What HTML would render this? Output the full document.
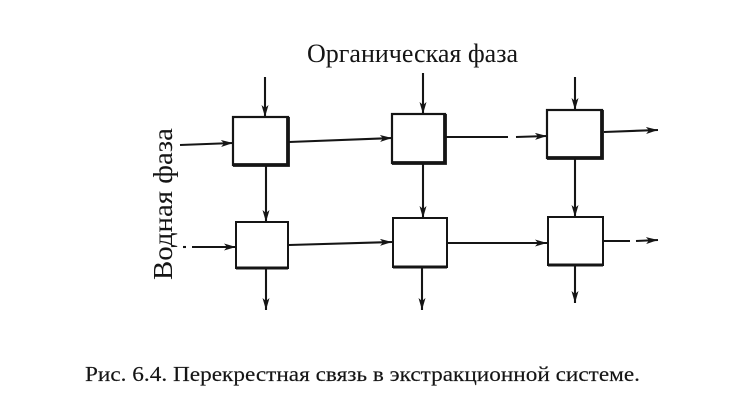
<!DOCTYPE html>
<html><head><meta charset="utf-8"><style>
html,body{margin:0;padding:0;background:#fff;}
svg{display:block;}
text{font-family:"Liberation Serif","DejaVu Serif",serif;fill:#151515;}
</style></head><body>
<svg width="750" height="408" viewBox="0 0 750 408" xmlns="http://www.w3.org/2000/svg">
<defs>
<marker id="a" viewBox="0 0 12 7" refX="12" refY="3.5" markerWidth="12" markerHeight="7" markerUnits="userSpaceOnUse" orient="auto">
<path d="M0,0 L12,3.5 L0,7 L3,3.5 z" fill="#151515"/>
</marker>
</defs>
<g stroke="#151515" stroke-width="2.1" fill="none">
<line x1="265" y1="77" x2="265" y2="117" marker-end="url(#a)"/>
<line x1="423" y1="73" x2="423" y2="114" marker-end="url(#a)"/>
<line x1="575" y1="77" x2="575" y2="110" marker-end="url(#a)"/>
<line x1="180" y1="145" x2="233" y2="143" marker-end="url(#a)"/>
<line x1="289" y1="142" x2="392" y2="138" marker-end="url(#a)"/>
<line x1="446" y1="137" x2="508" y2="137"/>
<line x1="516" y1="137" x2="547" y2="136" marker-end="url(#a)"/>
<line x1="604" y1="132" x2="658" y2="130" marker-end="url(#a)"/>
<line x1="266" y1="166" x2="266" y2="222" marker-end="url(#a)"/>
<line x1="423" y1="163" x2="423" y2="218" marker-end="url(#a)"/>
<line x1="575" y1="159" x2="575" y2="217" marker-end="url(#a)"/>
<line x1="183" y1="247" x2="186" y2="247"/>
<line x1="192" y1="247" x2="236" y2="247" marker-end="url(#a)"/>
<line x1="289" y1="245" x2="392" y2="242" marker-end="url(#a)"/>
<line x1="448" y1="243" x2="547" y2="243" marker-end="url(#a)"/>
<line x1="604" y1="241" x2="630" y2="241"/>
<line x1="636" y1="241" x2="658" y2="240" marker-end="url(#a)"/>
<line x1="266" y1="269" x2="266" y2="310" marker-end="url(#a)"/>
<line x1="422" y1="268" x2="422" y2="310" marker-end="url(#a)"/>
<line x1="575" y1="266" x2="575" y2="303" marker-end="url(#a)"/>
</g>
<g fill="#fff" stroke="#151515">
<rect x="233" y="117" width="55" height="48" stroke-width="2.2"/>
<rect x="392" y="114" width="53" height="49" stroke-width="2.2"/>
<rect x="547" y="110" width="55" height="48" stroke-width="2.2"/>
<rect x="236" y="222" width="52" height="46" stroke-width="2"/>
<rect x="393" y="218" width="54" height="49" stroke-width="2"/>
<rect x="548" y="217" width="55" height="48" stroke-width="2"/>
</g>
<g stroke="#151515" stroke-width="3.8" fill="none">
<polyline points="288,117 288,165 233,165"/>
<polyline points="445,114 445,163 392,163"/>
<polyline points="602,110 602,158 547,158"/>
<line x1="236" y1="268" x2="288" y2="268" stroke-width="3"/>
<line x1="393" y1="267" x2="447" y2="267" stroke-width="3"/>
<line x1="548" y1="265" x2="603" y2="265" stroke-width="3"/>
</g>
<text x="307" y="62" font-size="26" textLength="211" lengthAdjust="spacingAndGlyphs">Органическая фаза</text>
<text transform="translate(172,280) rotate(-90)" font-size="27" textLength="152" lengthAdjust="spacingAndGlyphs">Водная фаза</text>
<text x="85" y="381" font-size="21" textLength="555" lengthAdjust="spacingAndGlyphs" stroke="#151515" stroke-width="0.15">Рис. 6.4. Перекрестная связь в экстракционной системе.</text>
</svg>
</body></html>
